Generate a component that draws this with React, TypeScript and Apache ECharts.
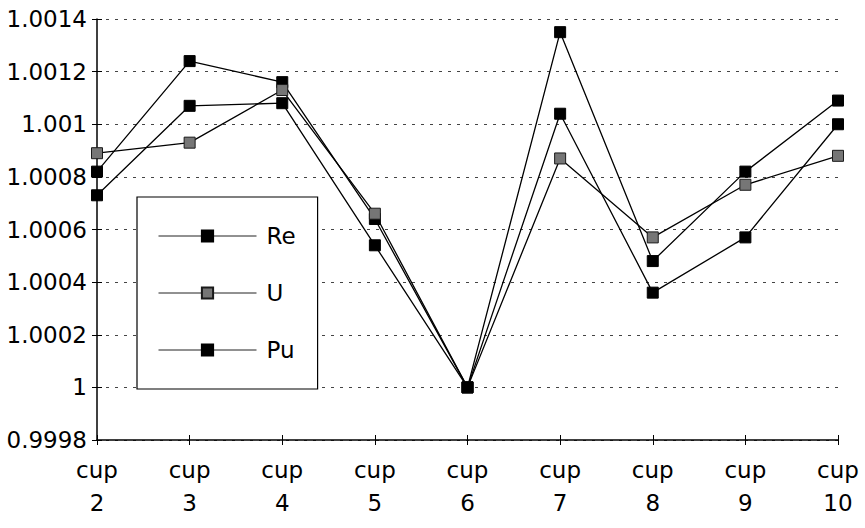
import React, { useEffect, useRef } from "react";
import * as echarts from "echarts";

const categories = ["cup\n2", "cup\n3", "cup\n4", "cup\n5", "cup\n6", "cup\n7", "cup\n8", "cup\n9", "cup\n10"];
const reValues = [1.00082, 1.00124, 1.00116, 1.00064, 1.0, 1.00135, 1.00048, 1.00082, 1.00109];
const uValues = [1.00089, 1.00093, 1.00113, 1.00066, 1.0, 1.00087, 1.00057, 1.00077, 1.00088];
const puValues = [1.00073, 1.00107, 1.00108, 1.00054, 1.0, 1.00104, 1.00036, 1.00057, 1.001];
const seriesNames = ["Re", "U", "Pu"];
const yMin = 0.9998;
const yMax = 1.0014;
const yInterval = 0.0002;

const FONT = "DejaVu Sans";

export default function App() {
  const ref = useRef<HTMLDivElement>(null);
  useEffect(() => {
    if (!ref.current) return;
    const chart = echarts.init(ref.current, undefined, { renderer: "svg" });
    const fmt = (v: number) => String(parseFloat(Number(v).toFixed(4)));
    const lineStyle = { color: "#000", width: 1.3 };
    const mk = (name: string, data: number[], fill: string, border: string) => ({
      name,
      type: "line",
      data,
      symbol: "rect",
      symbolSize: 11,
      lineStyle,
      itemStyle: { color: fill, borderColor: border, borderWidth: 1 },
      emphasis: { disabled: true },
      z: 3,
    });
    chart.setOption({
      animation: false,
      backgroundColor: "#fff",
      textStyle: { fontFamily: FONT },
      grid: { left: 97, right: 27, top: 19, bottom: 88 },
      legend: {
        orient: "vertical",
        left: 137,
        top: 197,
        width: 180,
        itemWidth: 98,
        itemHeight: 14,
        itemGap: 33,
        padding: [27, 22, 27, 21],
        borderColor: "#000",
        borderWidth: 1.2,
        backgroundColor: "#fff",
        data: seriesNames,
        lineStyle: { width: 1, color: "#222" },
        textStyle: { fontFamily: FONT, fontSize: 23, color: "#000", lineHeight: 24, padding: [0, 0, 0, 5] },
        selectedMode: false,
      },
      xAxis: [
        {
          type: "category",
          data: categories,
          boundaryGap: false,
          axisLine: { lineStyle: { color: "#000", width: 1.5 } },
          axisTick: { show: true, length: 5, alignWithLabel: true, lineStyle: { color: "#000" } },
          axisLabel: { fontFamily: FONT, fontSize: 23, color: "#000", lineHeight: 33, margin: 13, interval: 0 },
          splitLine: { show: false },
        },
        {
          type: "category",
          data: categories,
          boundaryGap: false,
          position: "bottom",
          axisLine: { show: false },
          axisTick: { show: true, inside: true, length: 5, lineStyle: { color: "#000" } },
          axisLabel: { show: false },
          splitLine: { show: false },
        },
      ],
      yAxis: [
        {
          type: "value",
          min: yMin,
          max: yMax,
          interval: yInterval,
          axisLine: { show: true, lineStyle: { color: "#000", width: 1.5 } },
          axisTick: { show: true, length: 5, lineStyle: { color: "#000" } },
          axisLabel: { fontFamily: FONT, fontSize: 23, color: "#000", margin: 10, formatter: fmt },
          splitLine: { show: true, lineStyle: { color: "#444", width: 1, type: [3, 6] } },
        },
        {
          type: "value",
          min: yMin,
          max: yMax,
          interval: yInterval,
          position: "left",
          axisLine: { show: false },
          axisTick: { show: true, inside: true, length: 5, lineStyle: { color: "#000" } },
          axisLabel: { show: false },
          splitLine: { show: false },
        },
      ],
      series: [
        mk(seriesNames[0], reValues, "#000", "#000"),
        mk(seriesNames[1], uValues, "#767676", "#1a1a1a"),
        mk(seriesNames[2], puValues, "#000", "#000"),
      ],
    });
    return () => chart.dispose();
  }, []);
  return <div ref={ref} style={{ position: "fixed", left: 0, top: 0, width: 865, height: 528 }} />;
}
